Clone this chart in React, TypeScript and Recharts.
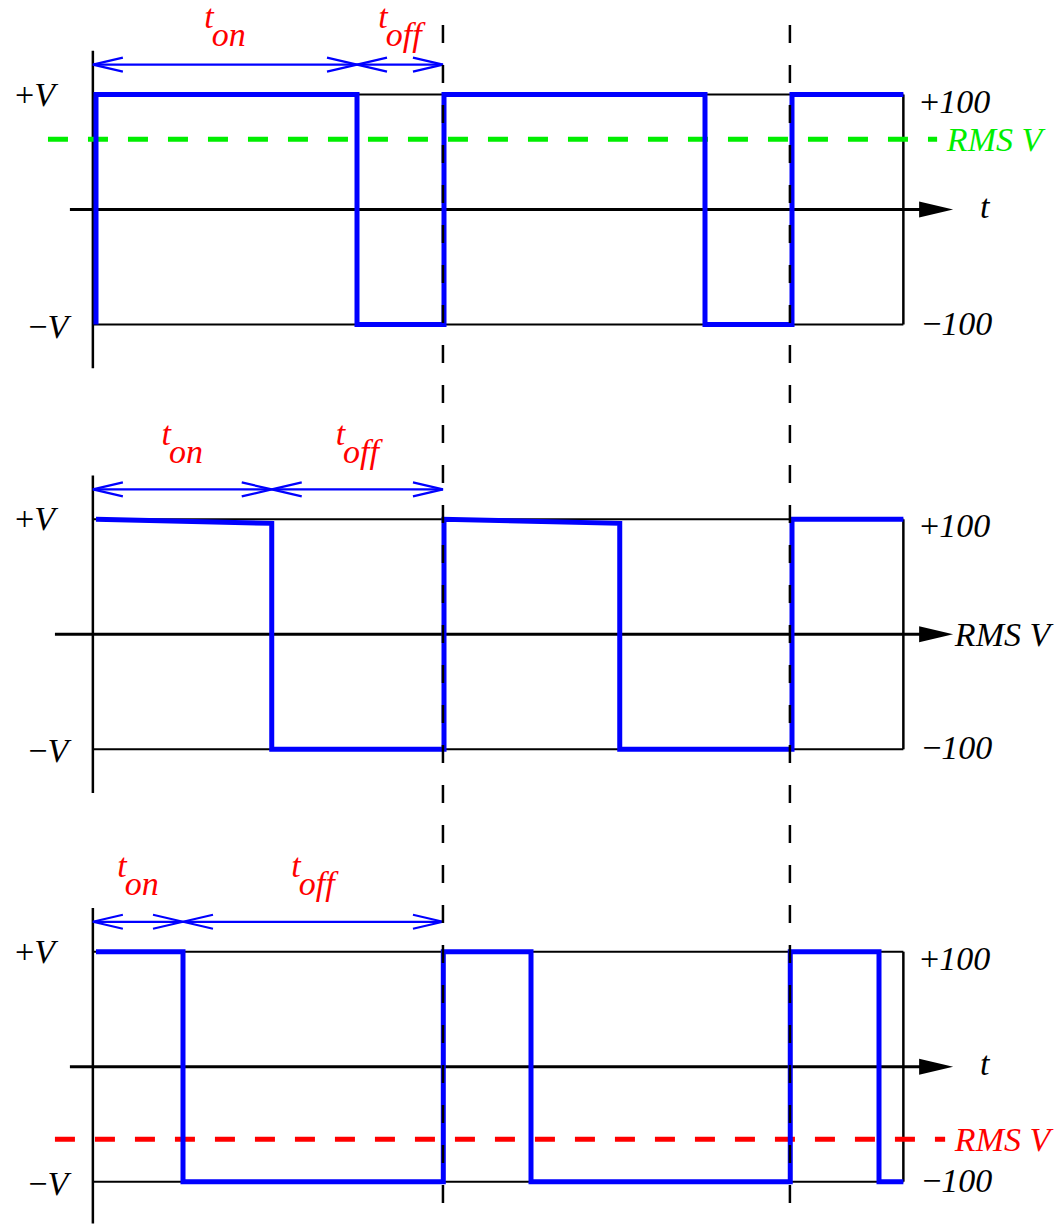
import { ComposedChart, Line, XAxis, YAxis, ReferenceLine, ReferenceDot } from 'recharts'

const W = 1056
const H = 1224

// time axis: one PWM period is 100 units
const periodMarks = [99.7, 199.4]
const tStart = -0.9
const tEnd = 232

// three waveforms (duty 75%, 50%, 25%)
const wave75 = [
  { t: 0, v: -100 }, { t: 0, v: 100 }, { t: 75, v: 100 }, { t: 75, v: -100 },
  { t: 100, v: -100 }, { t: 100, v: 100 }, { t: 175, v: 100 }, { t: 175, v: -100 },
  { t: 200, v: -100 }, { t: 200, v: 100 }, { t: 232, v: 100 },
]
const wave50 = [
  { t: 0, v: 100 }, { t: 50.5, v: 96.5 }, { t: 50.5, v: -100 }, { t: 100, v: -100 },
  { t: 100, v: 100 }, { t: 150.5, v: 96.5 }, { t: 150.5, v: -100 }, { t: 200, v: -100 },
  { t: 200, v: 100 }, { t: 232, v: 100 },
]
const wave25 = [
  { t: 0, v: 100 }, { t: 25, v: 100 }, { t: 25, v: -100 }, { t: 99.8, v: -100 },
  { t: 99.8, v: 100 }, { t: 125, v: 100 }, { t: 125, v: -100 }, { t: 199.5, v: -100 },
  { t: 199.5, v: 100 }, { t: 225, v: 100 }, { t: 225, v: -100 }, { t: 232, v: -100 },
]
const waves = [wave75, wave50, wave25]
const onEnds = [75, 50.5, 25]
const rmsLevels = [61, 0, -63]
const rmsColors = ['#00ee00', '#000000', '#ff0000']
const zeroStarts = [-7.5, -11.8, -7.5]
const zeroLabels = ['t', 'RMS V', 't']

// layout: pixel anchors of each panel
const X0 = 96
const PX = 3.48
const panelTops = [94.5, 519.3, 951.7]
const subLift = [37, 44, 45]
const K = 230 / 200
const xDomain = [-X0 / PX, (W - X0) / PX]
const yDomain = (top: number) => {
  const max = 100 + top / K
  return [max - H / K, max]
}

const FS = 34
const BLUE = '#0000ff'
const serifStyle = { fontFamily: 'Liberation Serif, Times New Roman, serif' }

const axisArrow = (p: any) => {
  const { x1, y1, x2, y2 } = p
  return (
    <g>
      <line x1={x1} y1={y1} x2={x2 - 20} y2={y2} stroke="#000" strokeWidth={3} />
      <polygon points={`${x2},${y2} ${x2 - 34},${y2 - 8} ${x2 - 34},${y2 + 8}`} fill="#000" />
    </g>
  )
}

const dimArrow = (p: any) => {
  const { x1, y1, x2, y2 } = p
  return (
    <g stroke={BLUE} strokeWidth={2.2} fill="none">
      <line x1={x1} y1={y1} x2={x2} y2={y2} />
      <polyline points={`${x1 + 30},${y1 - 7} ${x1},${y1} ${x1 + 30},${y1 + 7}`} />
      <polyline points={`${x2 - 30},${y2 - 7} ${x2},${y2} ${x2 - 30},${y2 + 7}`} />
    </g>
  )
}

const textAt = (
  key: string, yId: string, t: number, v: number,
  render: (cx: number, cy: number) => React.ReactElement,
) => (
  <ReferenceDot key={key} yAxisId={yId} x={t} y={v} r={0}
    shape={(p: any) => render(p.cx, p.cy)} />
)

const subLabel = (sub: string, lift: number) => (cx: number, cy: number) => (
  <text x={cx} y={cy - lift} textAnchor="middle" fill="#ff0000" style={serifStyle}
    fontStyle="italic" fontSize={FS}>
    <tspan>t</tspan>
    <tspan dx={-2} dy={18}>{sub}</tspan>
  </text>
)

export default function App() {
  const panels = waves.map((wave, i) => {
    const yId = `p${i}`
    const [yMin] = yDomain(panelTops[i])
    const leftBottom = i === 2 ? yMin + 0.5 : -138
    const items: React.ReactElement[] = []
    items.push(
      <YAxis key={`y${i}`} yAxisId={yId} type="number" domain={yDomain(panelTops[i])}
        allowDataOverflow hide scale="linear" />,
    )
    items.push(
      <ReferenceLine key={`top${i}`} yAxisId={yId} stroke="#000" strokeWidth={2}
        segment={[{ x: tStart, y: 100 }, { x: tEnd, y: 100 }]} />,
      <ReferenceLine key={`bot${i}`} yAxisId={yId} stroke="#000" strokeWidth={2}
        segment={[{ x: tStart, y: -100 }, { x: tEnd, y: -100 }]} />,
      <ReferenceLine key={`rgt${i}`} yAxisId={yId} stroke="#000" strokeWidth={2.5}
        segment={[{ x: tEnd, y: -100 }, { x: tEnd, y: 100 }]} />,
      <ReferenceLine key={`lft${i}`} yAxisId={yId} stroke="#000" strokeWidth={2.5}
        segment={[{ x: tStart, y: 138 }, { x: tStart, y: leftBottom }]} />,
      <ReferenceLine key={`zero${i}`} yAxisId={yId} shape={axisArrow}
        segment={[{ x: zeroStarts[i], y: 0 }, { x: 246.3, y: 0 }]} />,
    )
    if (rmsLevels[i] !== 0) {
      const start = i === 0 ? -13.8 : -11.8
      const end = i === 0 ? 241.7 : 244
      items.push(
        <ReferenceLine key={`rms${i}`} yAxisId={yId} stroke={rmsColors[i]} strokeWidth={5}
          strokeDasharray="20 20"
          segment={[{ x: start, y: rmsLevels[i] }, { x: end, y: rmsLevels[i] }]} />,
      )
    }
    items.push(
      <ReferenceLine key={`don${i}`} yAxisId={yId} shape={dimArrow}
        segment={[{ x: tStart, y: 126 }, { x: onEnds[i], y: 126 }]} />,
      <ReferenceLine key={`doff${i}`} yAxisId={yId} shape={dimArrow}
        segment={[{ x: onEnds[i], y: 126 }, { x: periodMarks[0], y: 126 }]} />,
    )
    items.push(
      <Line key={`w${i}`} yAxisId={yId} data={wave} dataKey="v" type="linear"
        stroke={BLUE} strokeWidth={5} dot={false} activeDot={false}
        strokeLinejoin="miter" isAnimationActive={false} />,
    )
    items.push(
      textAt(`ton${i}`, yId, (tStart + onEnds[i]) / 2, 126, subLabel('on', subLift[i])),
      textAt(`toff${i}`, yId, (onEnds[i] + periodMarks[0]) / 2, 126, subLabel('off', subLift[i])),
      textAt(`pv${i}`, yId, -11.8, 100, (cx, cy) => (
        <text x={cx} y={cy + 11} textAnchor="end" style={serifStyle} fontSize={FS} fill="#000">
          <tspan>+</tspan><tspan fontStyle="italic">V</tspan>
        </text>
      )),
      textAt(`nv${i}`, yId, -8.0, -100, (cx, cy) => (
        <text x={cx} y={cy + 13} textAnchor="end" style={serifStyle} fontSize={FS} fill="#000">
          <tspan>−</tspan><tspan fontStyle="italic">V</tspan>
        </text>
      )),
      textAt(`p100${i}`, yId, 236.8, 100, (cx, cy) => (
        <text x={cx} y={cy + 18} style={serifStyle} fontSize={FS} fill="#000">
          <tspan>+</tspan><tspan fontStyle="italic">100</tspan>
        </text>
      )),
      textAt(`n100${i}`, yId, 237.4, -100, (cx, cy) => (
        <text x={cx} y={cy + 10} style={serifStyle} fontSize={FS} fill="#000">
          <tspan>−</tspan><tspan fontStyle="italic">100</tspan>
        </text>
      )),
    )
    if (zeroLabels[i] === 't') {
      items.push(textAt(`tl${i}`, yId, 254, 0, (cx, cy) => (
        <text x={cx} y={cy + 8} style={serifStyle} fontStyle="italic" fontSize={FS} fill="#000">t</text>
      )))
    }
    const rmsT = i === 0 ? 244.5 : 246.8
    items.push(textAt(`rl${i}`, yId, rmsT, rmsLevels[i], (cx, cy) => (
      <text x={cx} y={cy + 12} style={serifStyle} fontStyle="italic" fontSize={FS}
        fill={rmsColors[i]}>RMS V</text>
    )))
    return items
  })

  const [p0Min] = yDomain(panelTops[0])
  const topOfMarks = 100 + (panelTops[0] - 25) / K

  return (
    <div style={{ position: 'absolute', left: 0, top: 0, width: W, height: H, background: '#fff' }}>
      <ComposedChart width={W} height={H} margin={{ top: 0, right: 0, bottom: 0, left: 0 }}>
        <XAxis dataKey="t" type="number" domain={xDomain} allowDataOverflow hide scale="linear" />
        {panels.flat()}
        {periodMarks.map((m) => (
          <ReferenceLine key={`pm${m}`} yAxisId="p0" stroke="#000" strokeWidth={2.5}
            strokeDasharray="18 22"
            segment={[{ x: m, y: topOfMarks }, { x: m, y: p0Min + 0.1 }]} />
        ))}
      </ComposedChart>
    </div>
  )
}
